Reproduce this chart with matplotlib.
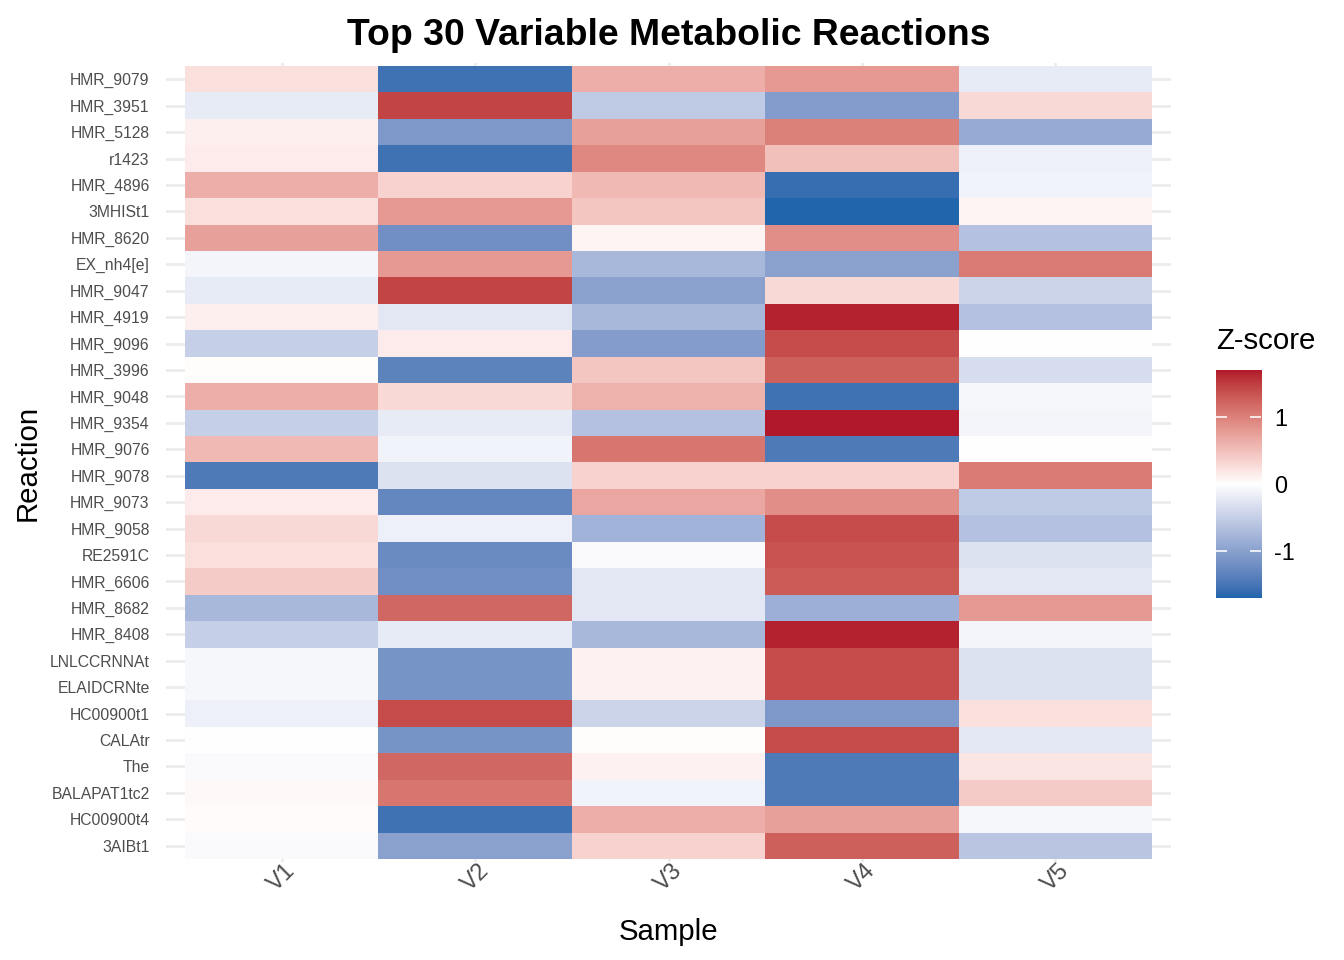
import numpy as np
import matplotlib
matplotlib.use('Agg')
import matplotlib.pyplot as plt
from matplotlib.colors import ListedColormap, Normalize

# Righe dall'alto verso il basso
reazioni = ['HMR_9079', 'HMR_3951', 'HMR_5128', 'r1423', 'HMR_4896', '3MHISt1',
            'HMR_8620', 'EX_nh4[e]', 'HMR_9047', 'HMR_4919', 'HMR_9096', 'HMR_3996',
            'HMR_9048', 'HMR_9354', 'HMR_9076', 'HMR_9078', 'HMR_9073', 'HMR_9058',
            'RE2591C', 'HMR_6606', 'HMR_8682', 'HMR_8408', 'LNLCCRNNAt', 'ELAIDCRNte',
            'HC00900t1', 'CALAtr', 'The', 'BALAPAT1tc2', 'HC00900t4', '3AIBt1']
campioni = ['V1', 'V2', 'V3', 'V4', 'V5']

v1 = [0.25, -0.20, 0.12, 0.15, 0.65, 0.25, 0.75, -0.10, -0.20, 0.12,
      -0.50, 0.02, 0.65, -0.50, 0.55, -1.45, 0.15, 0.30, 0.25, 0.40,
      -0.75, -0.50, -0.08, -0.08, -0.15, 0.00, -0.04, 0.05, 0.03, -0.04]
v2 = [-1.55, 1.45, -1.10, -1.55, 0.35, 0.80, -1.20, 0.80, 1.45, -0.25,
      0.15, -1.35, 0.30, -0.20, -0.12, -0.30, -1.30, -0.15, -1.25, -1.20,
      1.20, -0.20, -1.15, -1.15, 1.40, -1.15, 1.20, 1.10, -1.55, -1.00]
v3 = [0.65, -0.55, 0.75, 0.95, 0.55, 0.45, 0.08, -0.75, -1.00, -0.75,
      -1.05, 0.45, 0.60, -0.65, 1.10, 0.35, 0.70, -0.80, -0.05, -0.25,
      -0.25, -0.75, 0.10, 0.10, -0.45, 0.02, 0.10, -0.12, 0.65, 0.35]
v4 = [0.80, -1.05, 1.00, 0.50, -1.60, -1.70, 0.90, -1.00, 0.30, 1.65,
      1.40, 1.25, -1.55, 1.70, -1.45, 0.35, 0.90, 1.40, 1.35, 1.30,
      -0.85, 1.65, 1.40, 1.40, -1.10, 1.40, -1.45, -1.45, 0.75, 1.25]
v5 = [-0.20, 0.30, -0.90, -0.15, -0.12, 0.08, -0.65, 1.05, -0.45, -0.65,
      0.00, -0.35, -0.08, -0.10, 0.00, 1.05, -0.55, -0.65, -0.30, -0.25,
      0.80, -0.10, -0.30, -0.30, 0.25, -0.25, 0.20, 0.40, -0.08, -0.60]

z = np.array([v1, v2, v3, v4, v5]).T

M_RGB = np.array([[0.4124, 0.3576, 0.1805], [0.2126, 0.7152, 0.0722], [0.0193, 0.1192, 0.9505]])
BIANCO = np.array([0.95047, 1.0, 1.08883])


# Gradiente in spazio Lab come scale_fill_gradient2
def to_lab(hexcol):
    rgb = np.array([int(hexcol[i:i + 2], 16) / 255 for i in (1, 3, 5)])
    c = np.where(rgb <= 0.04045, rgb / 12.92, ((rgb + 0.055) / 1.055) ** 2.4)
    xyz = M_RGB @ c / BIANCO
    f = np.where(xyz > 0.008856, np.cbrt(xyz), 7.787 * xyz + 16 / 116)
    return np.array([116 * f[1] - 16, 500 * (f[0] - f[1]), 200 * (f[1] - f[2])])


def from_lab(lab):
    fy = (lab[:, 0] + 16) / 116
    fx = fy + lab[:, 1] / 500
    fz = fy - lab[:, 2] / 200
    f = np.stack([fx, fy, fz], axis=1)
    xyz = np.where(f ** 3 > 0.008856, f ** 3, (f - 16 / 116) / 7.787) * BIANCO
    c = xyz @ np.linalg.inv(M_RGB).T
    rgb = np.where(c <= 0.0031308, 12.92 * c, 1.055 * np.clip(c, 0, None) ** (1 / 2.4) - 0.055)
    return np.clip(rgb, 0, 1)


low, mid, high = to_lab('#2166AC'), to_lab('#FFFFFF'), to_lab('#B2182B')
t = np.linspace(0, 1, 256)[:, None]
lab = np.where(t < 0.5, low + (mid - low) * (t / 0.5), mid + (high - mid) * ((t - 0.5) / 0.5))
cmap = ListedColormap(from_lab(lab))
m = np.abs(z).max()
norm = Normalize(-m, m)

plt.rcParams['font.family'] = ['Liberation Sans', 'DejaVu Sans']

fig = plt.figure(figsize=(7, 5), dpi=192)
ax = fig.add_axes([0.1233, 0.1025, 0.7482, 0.8315])

x_edges = np.arange(len(campioni) + 1) + 0.5
y_edges = np.arange(len(reazioni) + 1) + 0.5
ax.pcolormesh(x_edges, y_edges, z, cmap=cmap, norm=norm, zorder=2)
ax.set_xlim(0.4, len(campioni) + 0.6)
ax.set_ylim(len(reazioni) + 0.6, 0.4)

ax.set_xticks(np.arange(1, len(campioni) + 1))
ax.set_xticklabels(campioni, rotation=45, ha='center', va='top', color='#4D4D4D', fontsize=8.8)
ax.set_yticks(np.arange(1, len(reazioni) + 1))
ax.set_yticklabels(reazioni, color='#4D4D4D', fontsize=5.9)
ax.tick_params(length=0)
ax.tick_params(axis='y', pad=6)
ax.tick_params(axis='x', pad=-1)
ax.grid(True, color='#EBEBEB', linewidth=1.0, zorder=0)
ax.set_axisbelow(True)
for s in ax.spines.values():
    s.set_visible(False)

ax.set_title('Top 30 Variable Metabolic Reactions', fontsize=14, fontweight='bold', pad=7)
ax.set_xlabel('Sample', fontsize=11, labelpad=8.5)
ax.set_ylabel('Reaction', fontsize=11, labelpad=3)

# Barra dei colori
cax = fig.add_axes([0.9048, 0.377, 0.0335, 0.2375])
grad = np.linspace(z.min(), z.max(), 256)[:, None]
cax.imshow(grad, aspect='auto', origin='lower', cmap=cmap, norm=norm,
           extent=[0, 1, z.min(), z.max()])
cax.set_xticks([])
cax.set_yticks([-1, 0, 1])
cax.set_yticklabels(['-1', '0', '1'], fontsize=8.8)
cax.tick_params(axis='y', direction='in', color='white', length=4, width=0.6,
                left=True, right=True, labelleft=False, labelright=True, pad=5)
for s in cax.spines.values():
    s.set_visible(False)
cax.set_title('Z-score', fontsize=11, loc='left', pad=8)

fig.savefig('out.png', dpi=192)
